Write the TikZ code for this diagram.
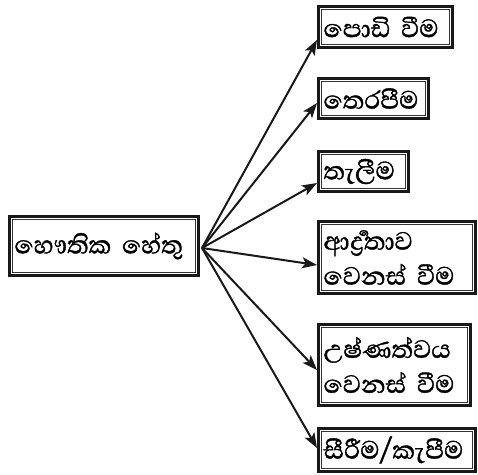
\documentclass[tikz,border=0pt]{standalone}
\usepackage{fontspec}
\newfontfamily\sinfont[Script=Sinhala,FakeBold=1.2]{Abhaya Libre}
\usetikzlibrary{arrows.meta}
\tikzset{
  box/.style={draw=black!90, line width=3pt, inner xsep=5pt, inner ysep=0pt, align=left,
    font=\sinfont\fontsize{32}{35}\selectfont, anchor=center},
  arr/.style={line width=2pt, draw=black!90, -{Stealth[length=15pt,width=11pt,inset=3.5pt]}},
  innerline/.style={line width=1pt, draw=black!80}
}
\begin{document}
\begin{tikzpicture}[x=1pt,y=-1pt]
\useasboundingbox (0,0) rectangle (478,474);
\node[box, minimum width=189pt, minimum height=59pt, text width=179pt] (src) at (104,246) {හෞතික හේතු};
\node[box, minimum width=134pt, minimum height=41pt, text width=124pt] (b1) at (385.5,27) {පොඩි වීම};
\node[box, minimum width=110pt, minimum height=40pt, text width=100pt] (b2) at (373.5,98.5) {තෙරපීම};
\node[box, minimum width=90pt, minimum height=40pt, text width=80pt] (b3) at (363.5,171.5) {තැලීම};
\node[box, minimum width=157pt, minimum height=72pt, text width=147pt] (b4) at (397,257.5) {ආර්^^^^200dද්^^^^200dරතාව\\වෙනස් වීම};
\node[box, minimum width=152pt, minimum height=81pt, text width=142pt] (b5) at (394.5,365) {උෂ්ණත්වය\\වෙනස් වීම};
\node[box, minimum width=157pt, minimum height=43pt, text width=147pt] (b6) at (397,450) {සීරීම/කැපීම};
\foreach \n in {src,b1,b2,b3,b4,b5,b6}
  \draw[innerline] ([shift={(4.5pt,4.5pt)}]\n.south west) rectangle ([shift={(-4.5pt,-4.5pt)}]\n.north east);
\coordinate (o) at ([shift={(2pt,-2pt)}]src.east);
\draw[arr] (o) -- ([yshift=-13pt]b1.west);
\draw[arr] (o) -- ([yshift=-4.5pt]b2.west);
\draw[arr] (o) -- ([yshift=-11.5pt]b3.west);
\draw[arr] (o) -- ([yshift=-7.5pt]b4.west);
\draw[arr] (o) -- ([yshift=-5pt]b5.west);
\draw[arr] (o) -- ([yshift=2pt]b6.west);
\end{tikzpicture}
\end{document}
